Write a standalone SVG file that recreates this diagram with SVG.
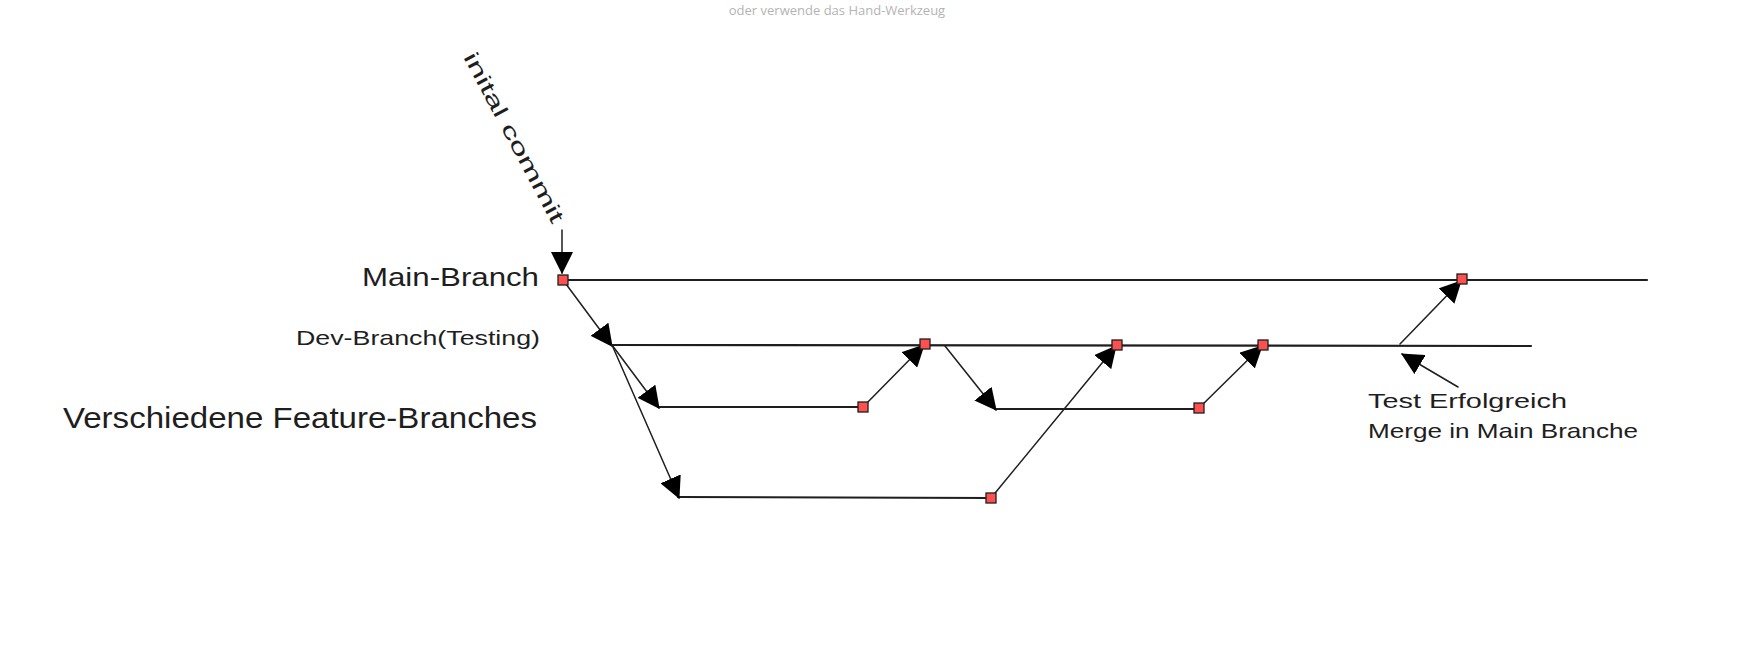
<svg xmlns="http://www.w3.org/2000/svg" width="1741" height="646" viewBox="0 0 1741 646">
<style>
.txt{font-family:"Liberation Sans",Arial,sans-serif;fill:#1e1e1e}
.ln{stroke:#1e1e1e;fill:none;stroke-linecap:round}
.br{stroke-width:2.2}
.ar{stroke-width:1.5;marker-end:url(#ah)}
.cm{fill:#ff5050;stroke:#1e1e1e;stroke-width:1.3}
</style>
<defs>
<marker id="ah" markerUnits="userSpaceOnUse" markerWidth="22" markerHeight="22" viewBox="0 0 20 20" refX="19" refY="10" orient="auto">
<path d="M0,0 L20,10 L0,20 z" fill="#000"/>
</marker>
</defs>
<rect width="1741" height="646" fill="#fff"/>
<text x="837" y="15" text-anchor="middle" font-family="'Open Sans','Noto Sans',sans-serif" font-size="13" fill="#b4b4b4">oder verwende das Hand-Werkzeug</text>

<g id="connectors">
<line class="ln br" x1="563" y1="280" x2="1647" y2="280"/>
<line class="ln br" x1="612" y1="345" x2="1531" y2="346"/>
<line class="ln br" x1="658" y1="407" x2="863" y2="407"/>
<line class="ln br" x1="678" y1="497" x2="991" y2="498"/>
<line class="ln br" x1="995" y1="409" x2="1199" y2="409"/>
<line class="ln ar" x1="562" y1="230" x2="562" y2="273"/>
<line class="ln ar" x1="563" y1="280" x2="612" y2="346"/>
<line class="ln ar" x1="612" y1="345" x2="659" y2="408"/>
<line class="ln ar" x1="612" y1="345" x2="679" y2="498"/>
<line class="ln ar" x1="863" y1="407" x2="924" y2="345"/>
<line class="ln ar" x1="991" y1="498" x2="1116" y2="346"/>
<line class="ln ar" x1="945" y1="346" x2="996" y2="410"/>
<line class="ln ar" x1="1199" y1="408" x2="1262" y2="346"/>
<line class="ln ar" x1="1400" y1="344" x2="1461" y2="281"/>
<line class="ln ar" x1="1458" y1="387" x2="1402" y2="354"/>
</g>

<g id="commit-main-1"><rect class="cm" x="558" y="275" width="10" height="10"/></g>
<g id="commit-main-2"><rect class="cm" x="1457" y="274" width="10" height="10"/></g>
<g id="commit-dev-1"><rect class="cm" x="920" y="339" width="10" height="10"/></g>
<g id="commit-dev-2"><rect class="cm" x="1112" y="340" width="10" height="10"/></g>
<g id="commit-dev-3"><rect class="cm" x="1258" y="340" width="10" height="10"/></g>
<g id="commit-feat-1"><rect class="cm" x="858" y="402" width="10" height="10"/></g>
<g id="commit-feat-2"><rect class="cm" x="986" y="493" width="10" height="10"/></g>
<g id="commit-feat-3"><rect class="cm" x="1194" y="403" width="10" height="10"/></g>

<g id="label-main"><text class="txt" x="362" y="286" font-size="25" textLength="177" lengthAdjust="spacingAndGlyphs">Main-Branch</text></g>
<g id="label-dev"><text class="txt" x="296" y="345" font-size="21" textLength="244" lengthAdjust="spacingAndGlyphs">Dev-Branch(Testing)</text></g>
<g id="label-feature"><text class="txt" x="63" y="428" font-size="29" textLength="474" lengthAdjust="spacingAndGlyphs">Verschiedene Feature-Branches</text></g>
<g id="label-initial"><text class="txt" transform="translate(513,138) rotate(62)" x="0" y="6" text-anchor="middle" font-size="21" textLength="190" lengthAdjust="spacingAndGlyphs">inital commit</text></g>
<g id="label-merge">
<text class="txt" x="1368" y="408" font-size="21" textLength="199" lengthAdjust="spacingAndGlyphs">Test Erfolgreich</text>
<text class="txt" x="1368" y="438" font-size="21" textLength="270" lengthAdjust="spacingAndGlyphs">Merge in Main Branche</text>
</g>
</svg>
